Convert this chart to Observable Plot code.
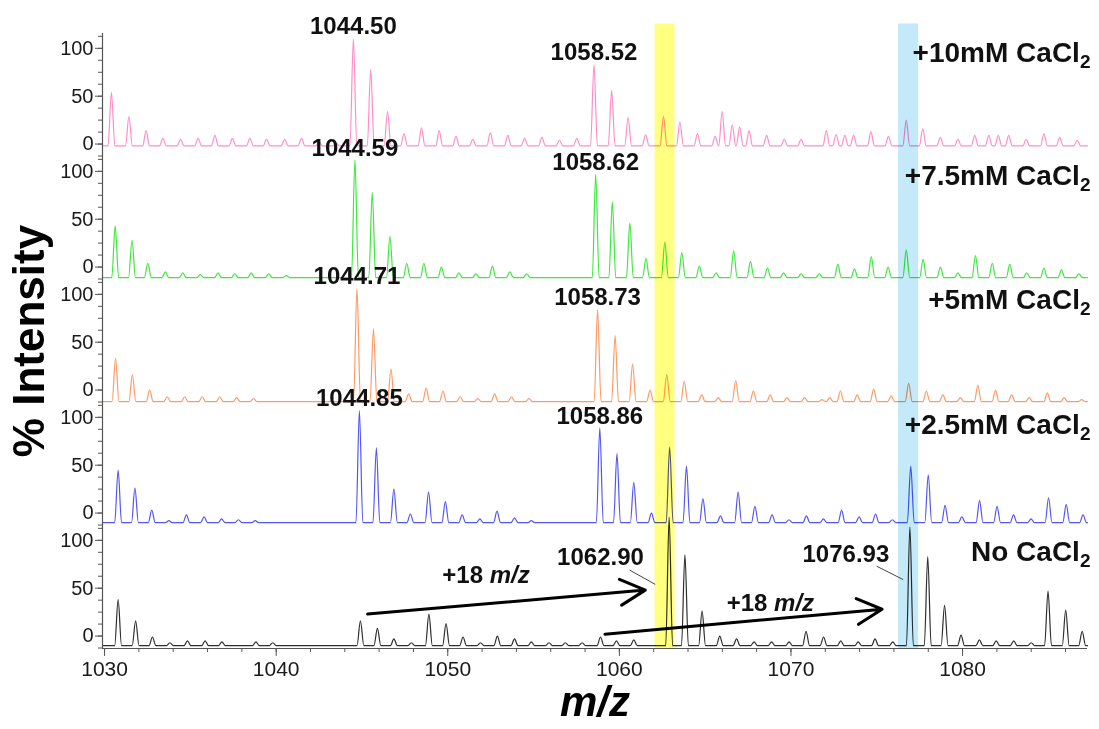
<!DOCTYPE html>
<html><head><meta charset="utf-8">
<script src="https://cdn.jsdelivr.net/npm/d3@7"></script>
<script src="https://cdn.jsdelivr.net/npm/@observablehq/plot@0.6"></script>
<style>
html,body{margin:0;padding:0;background:#fff;}
#chart{width:1099px;height:729px;}
</style></head><body><div id="chart"></div>
<script>
// ---------- data ----------
const panels = ["+10mM", "+7.5mM", "+5mM", "+2.5mM", "No"];
const panelLabels = ["+10mM CaCl₂", "+7.5mM CaCl₂", "+5mM CaCl₂", "+2.5mM CaCl₂", "No CaCl₂"];
const panelLabelV = [95, 95, 94, 92, 88];
const panelColors = ["#ff8ec8", "#3ee83e", "#ff9a66", "#5555f2", "#2e2e2e"];
const baselines = [-2, -11, -12, -10, -10];

const peaks10 = [[1030.40,54],[1031.42,29],[1032.42,14],[1033.40,6],[1034.43,5],[1035.45,6],[1036.43,9],[1037.45,6],[1038.47,6],[1039.44,5],[1040.50,5],[1041.48,6],[1042.50,2],[1043.50,1],[1044.50,110],[1045.51,78],[1046.49,34],[1047.45,11],[1048.47,17],[1049.50,14],[1050.48,8],[1051.46,5],[1052.48,12],[1053.50,9],[1054.48,6],[1055.49,7],[1056.51,4],[1057.52,6],[1058.52,83],[1059.55,56],[1060.51,28],[1061.53,10],[1062.57,29],[1063.53,23],[1064.55,11],[1065.58,8],[1065.99,34],[1066.58,20],[1067.01,18],[1067.56,14],[1068.58,9],[1069.61,5],[1070.59,5],[1072.06,14],[1072.63,10],[1073.14,9],[1073.65,9],[1074.66,13],[1075.68,8],[1076.72,25],[1077.68,16],[1078.70,7],[1079.73,5],[1080.71,9],[1081.53,9],[1082.08,9],[1082.69,9],[1083.71,5],[1084.74,11],[1085.66,7],[1086.68,4]];
const peaks75 = [[1030.62,43],[1031.60,28],[1032.52,4],[1033.54,-5],[1034.56,-6],[1035.58,-8],[1036.61,-6],[1037.59,-7],[1038.55,-6],[1039.57,-7],[1040.59,-9],[1044.59,112],[1045.60,78],[1046.63,32],[1047.61,4],[1048.61,4],[1049.63,0],[1050.65,-6],[1051.64,-7],[1052.60,1],[1053.62,-5],[1054.60,-7],[1058.62,97],[1059.59,68],[1060.61,46],[1061.55,9],[1062.65,26],[1063.64,15],[1064.66,1],[1065.64,-6],[1066.66,17],[1067.64,6],[1068.63,-1],[1069.57,-6],[1070.59,-7],[1071.65,-7],[1072.73,3],[1073.70,-2],[1074.68,11],[1075.66,0],[1076.72,18],[1077.70,8],[1078.71,0],[1079.73,-6],[1080.75,12],[1081.73,4],[1082.75,3],[1083.74,-6],[1084.74,-1],[1085.76,-3],[1086.78,-7]];
const peaks5 = [[1030.64,33],[1031.62,16],[1032.63,0],[1033.65,-7],[1034.67,-7],[1035.69,-7],[1036.71,-7],[1037.70,-8],[1038.68,-9],[1044.71,106],[1045.67,64],[1046.69,22],[1047.72,-4],[1048.74,2],[1049.72,-1],[1050.72,-7],[1051.75,-9],[1052.73,-4],[1053.71,-7],[1054.73,-9],[1058.73,84],[1059.75,57],[1060.77,27],[1061.79,0],[1062.76,16],[1063.78,9],[1064.80,-5],[1065.76,-8],[1066.78,10],[1067.81,-1],[1068.79,-5],[1069.77,-8],[1070.79,-8],[1071.81,-10],[1072.26,-8],[1072.88,-1],[1073.86,-5],[1074.82,1],[1075.84,-6],[1076.86,7],[1077.89,-1],[1078.85,-5],[1079.87,-8],[1080.89,5],[1081.92,0],[1082.86,-5],[1083.88,-8],[1084.94,-3],[1085.92,-8],[1086.94,-10]];
const peaks25 = [[1030.79,45],[1031.77,26],[1032.75,3],[1033.75,-8],[1034.77,-2],[1035.80,-4],[1036.82,-6],[1037.80,-7],[1038.78,-8],[1044.85,107],[1045.84,68],[1046.86,25],[1047.82,-1],[1048.88,22],[1049.86,12],[1050.84,-2],[1051.87,-6],[1052.87,2],[1053.89,-5],[1054.87,-8],[1058.86,89],[1059.86,62],[1060.84,32],[1061.87,0],[1062.93,69],[1063.91,49],[1064.87,15],[1065.89,-3],[1066.92,22],[1067.90,7],[1068.90,-2],[1069.88,-7],[1070.90,-3],[1071.89,-6],[1072.95,3],[1073.97,-4],[1074.93,-1],[1075.91,-7],[1076.98,49],[1078.00,40],[1078.98,8],[1079.96,-4],[1080.99,13],[1082.01,7],[1082.97,-2],[1083.99,-6],[1085.01,16],[1086.04,9],[1087.02,-2]];
const peaks0 = [[1030.79,38],[1031.81,16],[1032.79,-1],[1033.81,-7],[1034.83,-5],[1035.86,-5],[1036.84,-6],[1038.82,-6],[1039.80,-7],[1044.91,16],[1045.90,8],[1046.86,-3],[1047.88,-7],[1048.90,23],[1049.90,13],[1050.89,-1],[1051.91,-7],[1052.89,0],[1053.89,-3],[1054.87,-6],[1055.90,-7],[1056.85,-7],[1057.83,-7],[1058.90,-1],[1059.83,-5],[1060.84,-4],[1062.90,124],[1063.82,85],[1064.82,26],[1065.85,0],[1066.83,-3],[1067.85,-6],[1068.87,-6],[1069.89,-6],[1070.88,5],[1071.90,-1],[1072.90,-5],[1073.92,-6],[1074.90,-3],[1075.93,-6],[1076.93,114],[1077.97,83],[1078.95,32],[1079.91,1],[1080.98,-4],[1081.96,-5],[1082.98,-5],[1084.00,-7],[1084.98,47],[1086.01,27],[1086.97,5]];
const spectra = [peaks10, peaks75, peaks5, peaks25, peaks0];

const mzDomain = [1029.88, 1087.28];
const yDomain = [-13, 115.5];
const mzTicks = [1030, 1040, 1050, 1060, 1070, 1080];
const mzMinorTicks = d3.range(1030, 1088, 2);
const yTicks = [0, 50, 100];
const yMinorTicks = d3.range(-12.5, 113, 12.5);

// highlighted windows
const bandStart = [1062.08, 1076.27];
const bandEnd = [1063.24, 1077.44];
const bandColors = ["#ffff80", "#c4e9f8"];

// peak labels
const peakLabelPanel = ["+10mM", "+10mM", "+7.5mM", "+7.5mM", "+5mM", "+5mM", "+2.5mM", "+2.5mM"];
const peakLabelMz = [1044.50, 1058.52, 1044.59, 1058.62, 1044.71, 1058.73, 1044.85, 1058.86];

// callouts in the bottom panel
const calloutText = ["1062.90", "1076.93"];
const calloutMz = [1058.9, 1073.2];
const calloutV = [82, 85];
const leaderMz1 = [1060.59, 1074.99];
const leaderV1 = [69, 73];
const leaderMz2 = [1062.09, 1076.54];
const leaderV2 = [54, 59];

// +18 m/z arrows
const shiftText = "+18 m/z";
const shiftLabelMz = [1052.23, 1068.8];
const shiftLabelV = [63, 34];
const arrowFromMz = [1045.33, 1059.16];
const arrowFromV = [23, 2];
const arrowToMz = [1061.51, 1075.31];
const arrowToV = [48, 28];

// ---------- build tables ----------
const halfWidth = 0.2;
const lineRows = panels.flatMap((p, i) => {
  const b = baselines[i];
  const rows = [{panel: p, mz: mzDomain[0], v: b}];
  for (const [mz, v] of spectra[i]) {
    rows.push({panel: p, mz: mz - halfWidth, v: b}, {panel: p, mz, v}, {panel: p, mz: mz + halfWidth, v: b});
  }
  rows.push({panel: p, mz: mzDomain[1], v: b});
  return rows.filter(r => r.mz >= mzDomain[0] && r.mz <= mzDomain[1]);
});

const bandOverhang = 10;
const bandMarks = bandStart.map((s, bi) => Plot.rect(
  panels.map((p, pi) => ({panel: p, x1: s, x2: bandEnd[bi], y1: yDomain[0], y2: pi === 0 ? yDomain[1] + bandOverhang : yDomain[1]})),
  {x1: "x1", x2: "x2", y1: "y1", y2: "y2", fy: "panel", fill: bandColors[bi], mixBlendMode: "multiply"}
));

const peakLabelRows = peakLabelMz.map((mz, i) => {
  const pi = panels.indexOf(peakLabelPanel[i]);
  const pk = spectra[pi].reduce((a, b) => Math.abs(b[0] - mz) < Math.abs(a[0] - mz) ? b : a);
  return {panel: peakLabelPanel[i], mz: pk[0], v: pk[1], text: mz.toFixed(2)};
});
const panelLabelRows = panels.map((p, i) => ({panel: p, text: panelLabels[i], v: panelLabelV[i]}));
const calloutRows = calloutText.map((t, i) => ({panel: "No", text: t, mz: calloutMz[i], v: calloutV[i],
  x1: leaderMz1[i], y1: leaderV1[i], x2: leaderMz2[i], y2: leaderV2[i]}));
const shiftRows = shiftLabelMz.map((mz, i) => ({panel: "No", text: shiftText, mz, v: shiftLabelV[i],
  x1: arrowFromMz[i], y1: arrowFromV[i], x2: arrowToMz[i], y2: arrowToV[i]}));

const font = "'Liberation Sans', Arial, Helvetica, sans-serif";

const chart = Plot.plot({
  width: 1099,
  height: 729,
  marginTop: 32,
  marginBottom: 80,
  marginLeft: 102,
  marginRight: 12,
  style: {fontFamily: font, fontSize: "20px", color: "#1a1a1a", background: "#fff"},
  x: {domain: mzDomain},
  y: {domain: yDomain},
  fy: {domain: panels, padding: 0, axis: null},
  color: {domain: panels, range: panelColors},
  marks: [
    Plot.line(lineRows, {x: "mz", y: "v", fy: "panel", stroke: "panel", strokeWidth: 1.2, curve: "monotone-x"}),
    ...bandMarks,
    Plot.ruleX([mzDomain[0]], {stroke: "#555", strokeWidth: 1.2}),
    Plot.ruleY([yDomain[0]], {stroke: "#555", strokeWidth: 1.2, facetAnchor: "bottom"}),
    Plot.axisY({ticks: yTicks, tickSize: 7, tickPadding: 2, label: null, stroke: "#555", fontSize: 20}),
    Plot.axisY({ticks: yMinorTicks, tickSize: 4, text: null, label: null, stroke: "#555"}),
    Plot.axisX({ticks: mzTicks, tickSize: 8, tickPadding: 5, tickFormat: d => String(d), label: null, stroke: "#555", fontSize: 21, facetAnchor: "bottom"}),
    Plot.axisX({ticks: mzMinorTicks, tickSize: 4, text: null, label: null, stroke: "#555", facetAnchor: "bottom"}),
    Plot.text(peakLabelRows, {x: "mz", y: "v", fy: "panel", text: "text", dy: -12, fontSize: 24, fontWeight: "bold", fill: "#111"}),
    Plot.text(panelLabelRows, {x: () => mzDomain[1], y: "v", fy: "panel", text: "text", textAnchor: "end", dx: 3, fontSize: 28, fontWeight: "bold", fill: "#111"}),
    Plot.link(calloutRows, {x1: "x1", y1: "y1", x2: "x2", y2: "y2", fy: "panel", stroke: "#444", strokeWidth: 1}),
    Plot.text(calloutRows, {x: "mz", y: "v", fy: "panel", text: "text", fontSize: 24, fontWeight: "bold", fill: "#111"}),
    Plot.arrow(shiftRows, {x1: "x1", y1: "y1", x2: "x2", y2: "y2", fy: "panel", stroke: "#000", strokeWidth: 3, headLength: 14, headAngle: 55}),
    Plot.text(shiftRows, {x: "mz", y: "v", fy: "panel", text: "text", fontSize: 24, fontWeight: "bold", fill: "#111"}),
    Plot.text(["m/z"], {frameAnchor: "bottom", facetAnchor: "bottom", lineAnchor: "middle", dy: 54, fontSize: 42, fontWeight: "bold", fontStyle: "italic", fill: "#000"})
  ]
});

const svg = d3.select(chart);
svg.selectAll("text").each(function() {
  const t = this.textContent;
  const sel = d3.select(this);
  if (t.includes("₂")) {
    const parts = t.split("₂");
    sel.text(null);
    sel.append("tspan").text(parts[0]);
    sel.append("tspan").attr("font-size", "0.68em").attr("dy", "0.32em").text("2");
  } else if (t === shiftText) {
    sel.text(null);
    sel.append("tspan").text("+18 ");
    sel.append("tspan").attr("font-style", "italic").text("m/z");
  }
});
svg.append("text")
  .attr("transform", "translate(44,341) rotate(-90)")
  .attr("text-anchor", "middle")
  .attr("font-family", font)
  .attr("font-size", 44)
  .attr("font-weight", "bold")
  .attr("fill", "#000")
  .text("% Intensity");

document.getElementById("chart").appendChild(chart);
</script></body></html>
